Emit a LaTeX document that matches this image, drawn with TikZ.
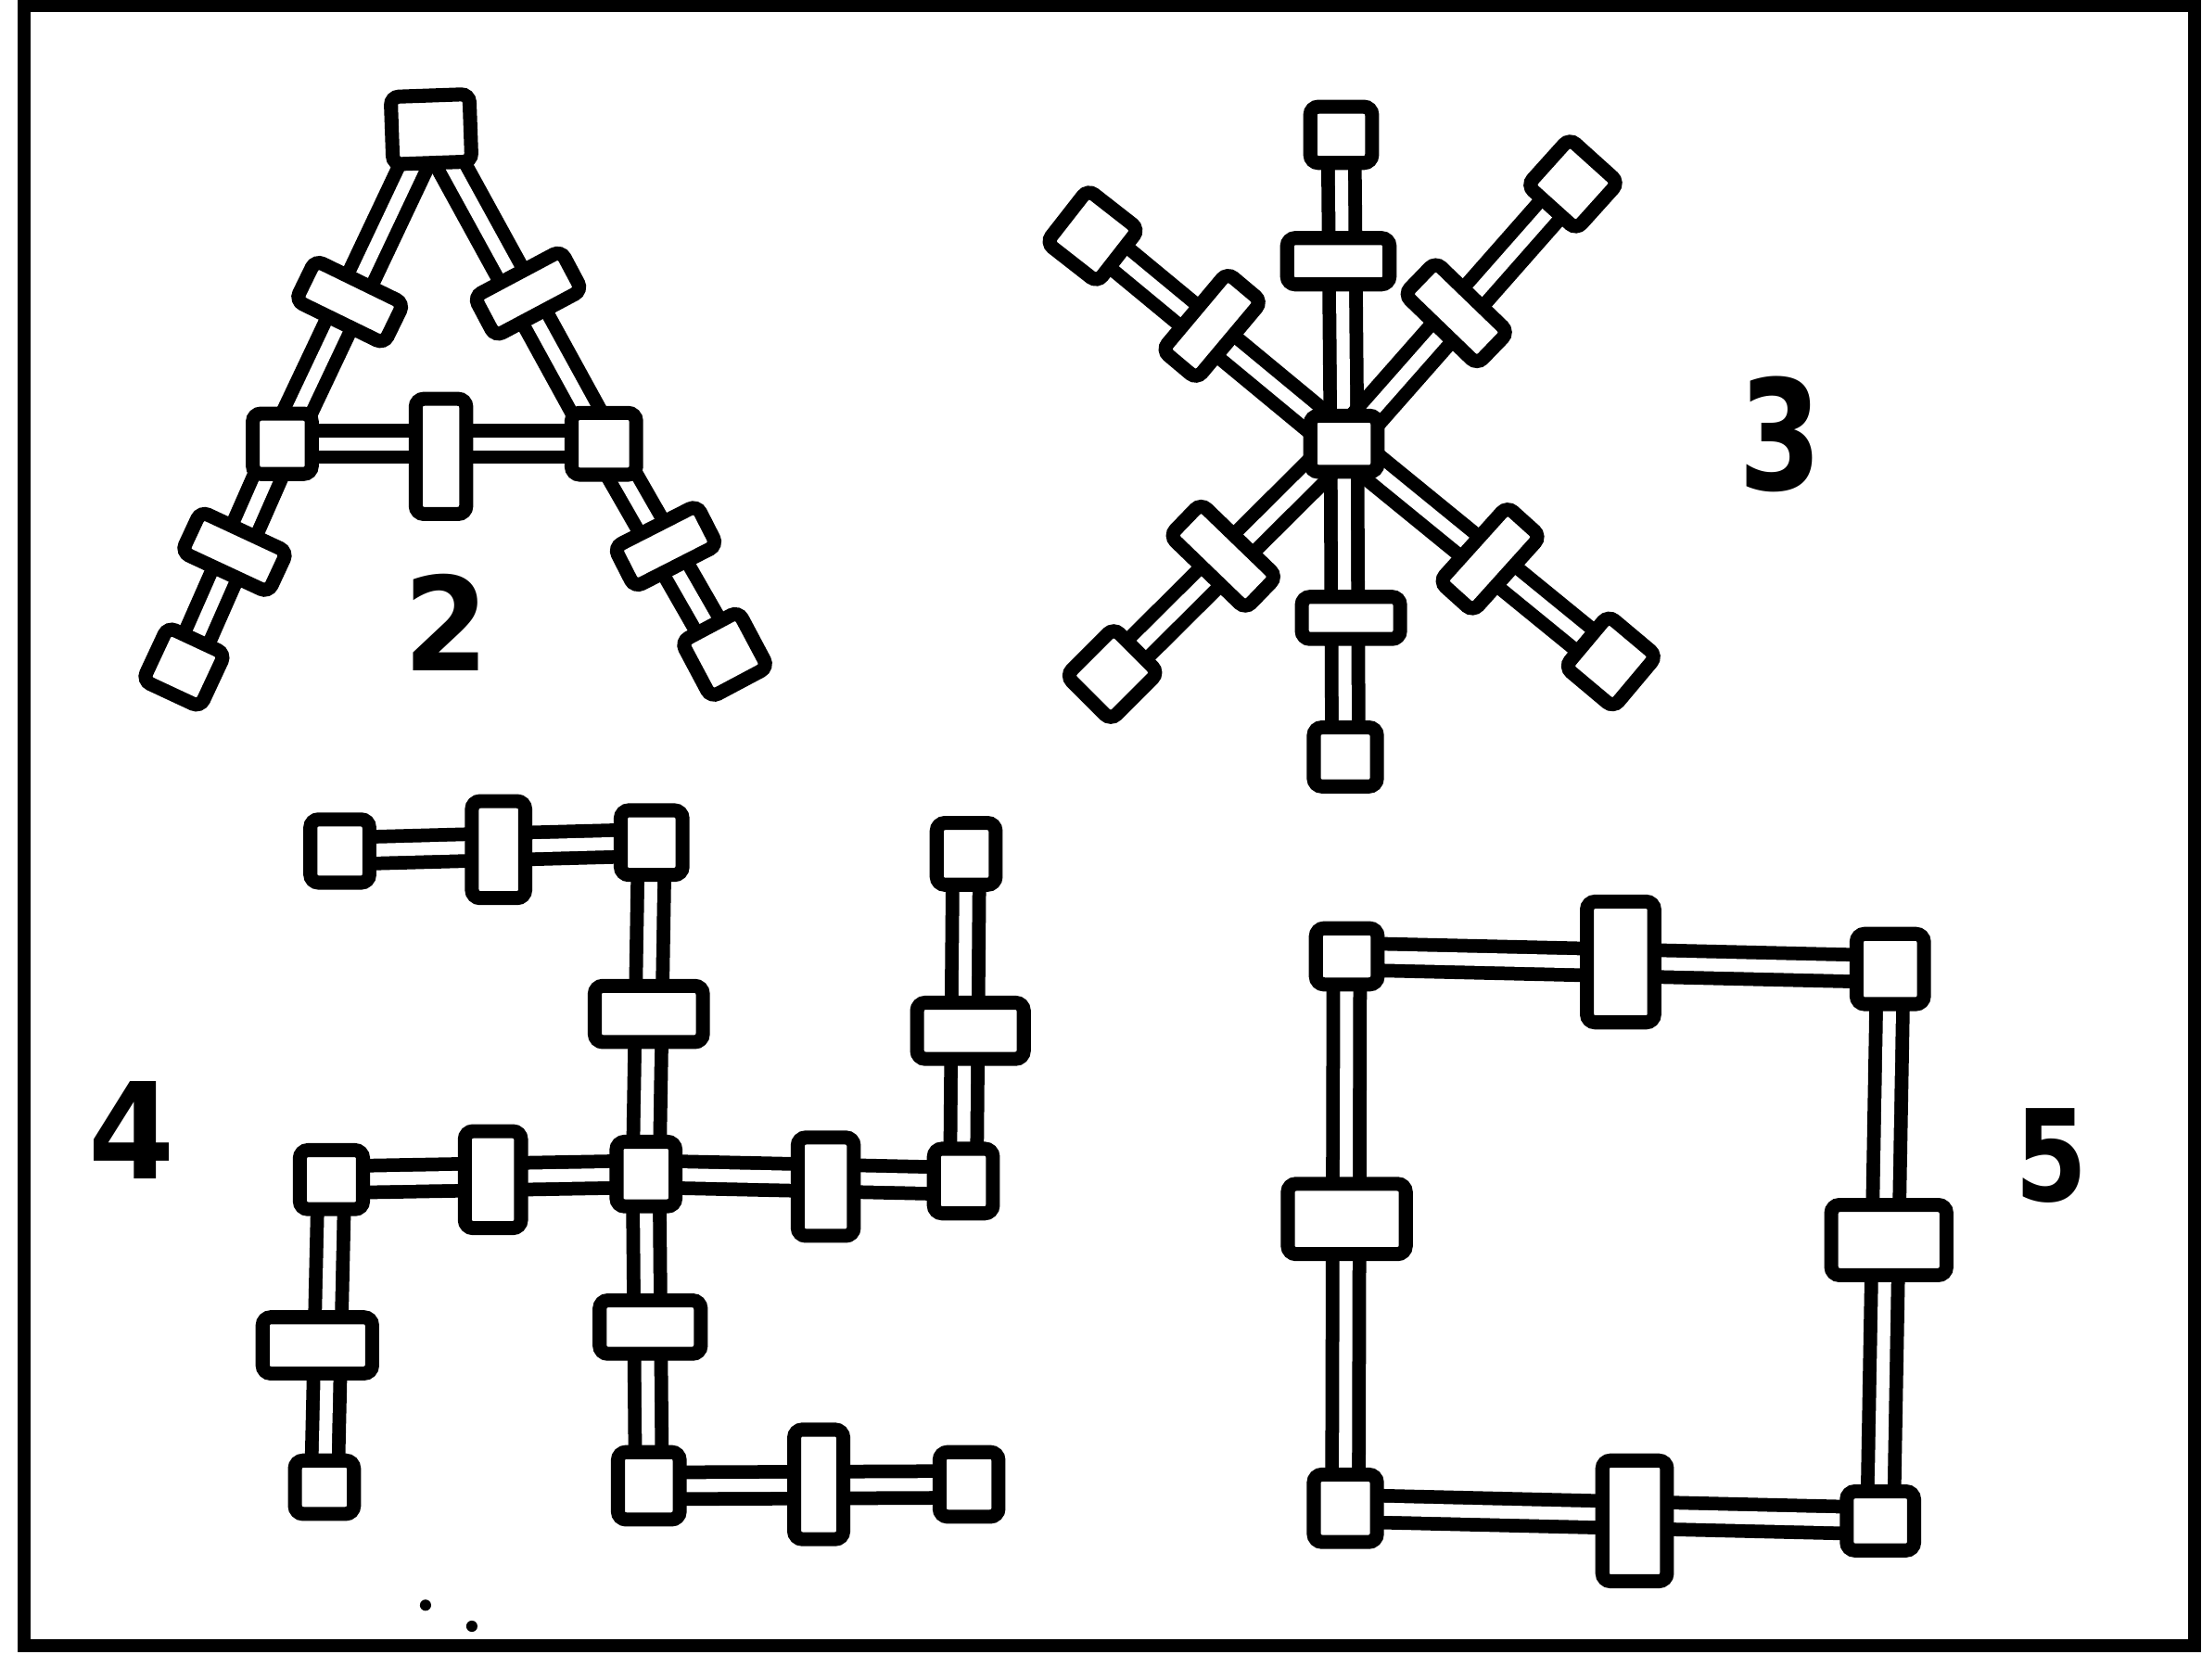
\documentclass[tikz,border=0pt]{standalone}
\usepackage{fontspec}
\newfontfamily\labfont{DejaVu Sans}
\usetikzlibrary{backgrounds}
\newcommand\digit[3]{\fontsize{#1}{#1}\selectfont\scalebox{#2}[1]{#3}}
\tikzset{
  px/.style 2 args={minimum width={(#1-10)*0.015147cm}, minimum height={(#2-10)*0.015147cm}},
  hub/.style={draw=black, line width=4.3pt, fill=white, rounded corners=2.5pt, inner sep=0pt, outer sep=0pt},
  rod/.style={draw=black, line width=4.2pt, double=white, double distance=4pt},
  lab/.style={font=\labfont\bfseries, inner sep=0pt},
  frame/.style={draw=black, line width=4pt},
}
\begin{document}
\begin{tikzpicture}[x=0.015147cm, y=-0.015147cm]
\useasboundingbox (0,0) rectangle (1568,1196);
\draw[frame] (17,4) rectangle (1563,1172);

% ---------- figure 2 ----------
\node[hub, px={66}{58}, rotate=2]   (t2)   at (307,92)  {};
\node[hub, px={80}{42}, rotate=-26] (cl2a) at (249,215) {};
\node[hub, px={52}{53}]             (ml2)  at (201,316) {};
\node[hub, px={78}{42}, rotate=-25] (cl2b) at (167,393) {};
\node[hub, px={55}{52}, rotate=-25] (bl2)  at (131,475) {};
\node[hub, px={80}{42}, rotate=28]  (cr2a) at (376,209) {};
\node[hub, px={56}{54}]             (mr2)  at (430,316) {};
\node[hub, px={76}{42}, rotate=27]  (cr2b) at (474,389) {};
\node[hub, px={56}{55}, rotate=28]  (br2)  at (516,466) {};
\node[hub, px={46}{92}]             (cm2)  at (314,325) {};
\node[lab] (l2) at (318,443) {\digit{40}{0.94}{2}};
\begin{scope}[on background layer]
  \draw[rod] (t2.center) -- (ml2.center);
  \draw[rod] (ml2.center) -- (bl2.center);
  \draw[rod] (t2.center) -- (mr2.center);
  \draw[rod] (mr2.center) -- (br2.center);
  \draw[rod] (ml2.center) -- (mr2.center);
\end{scope}

% ---------- figure 3 ----------
\node[hub, px={58}{50}]             (c3)   at (957,316) {};
\node[hub, px={54}{50}]             (n3)   at (955,96)  {};
\node[hub, px={83}{43}]             (cn3)  at (953,186) {};
\node[hub, px={80}{40}]             (cs3)  at (962,440) {};
\node[hub, px={55}{52}]             (s3)   at (958,539) {};
\node[hub, px={56}{58}, rotate=-38] (ul3)  at (778,168) {};
\node[hub, px={82}{42}, rotate=50]  (cul3) at (863,232) {};
\node[hub, px={57}{55}, rotate=-42] (ur3)  at (1120,131) {};
\node[hub, px={82}{42}, rotate=-44] (cur3) at (1037,223) {};
\node[hub, px={55}{58}, rotate=-45] (ll3)  at (792,480) {};
\node[hub, px={85}{42}, rotate=-44] (cll3) at (871,396) {};
\node[hub, px={55}{58}, rotate=-40] (lr3)  at (1147,471) {};
\node[hub, px={82}{42}, rotate=48]  (clr3) at (1061,398) {};
\node[lab] (l3) at (1268,309) {\digit{47}{0.78}{3}};
\begin{scope}[on background layer]
  \draw[rod] (c3.center) -- (n3.center);
  \draw[rod] (c3.center) -- (s3.center);
  \draw[rod] (c3.center) -- (ul3.center);
  \draw[rod] (c3.center) -- (ur3.center);
  \draw[rod] (c3.center) -- (ll3.center);
  \draw[rod] (c3.center) -- (lr3.center);
\end{scope}

% ---------- figure 4 ----------
\node[hub, px={52}{56}] (c4)   at (460,836)  {};
\node[hub, px={87}{50}] (cu4)  at (462,722)  {};
\node[hub, px={54}{56}] (t4)   at (464,600)  {};
\node[hub, px={48}{79}] (ctl4) at (355,605)  {};
\node[hub, px={52}{55}] (tl4)  at (242,606)  {};
\node[hub, px={50}{79}] (cl4)  at (351,840)  {};
\node[hub, px={55}{52}] (l4)   at (236,840)  {};
\node[hub, px={88}{50}] (cld4) at (226,958)  {};
\node[hub, px={52}{48}] (bl4)  at (231,1059) {};
\node[hub, px={50}{80}] (cr4)  at (588,845)  {};
\node[hub, px={52}{56}] (r4)   at (686,841)  {};
\node[hub, px={86}{50}] (cru4) at (691,734)  {};
\node[hub, px={52}{54}] (tr4)  at (688,608)  {};
\node[hub, px={82}{48}] (cd4)  at (463,945)  {};
\node[hub, px={54}{58}] (b4)   at (462,1058) {};
\node[hub, px={45}{88}] (cbr4) at (583,1057) {};
\node[hub, px={52}{56}] (br4)  at (690,1057) {};
\node[lab] (l4lab) at (94,805) {\digit{41}{0.93}{4}};
\begin{scope}[on background layer]
  \draw[rod] (tl4.center) -- (t4.center);
  \draw[rod] (t4.center) -- (c4.center);
  \draw[rod] (l4.center) -- (c4.center);
  \draw[rod] (c4.center) -- (r4.center);
  \draw[rod] (r4.center) -- (tr4.center);
  \draw[rod] (l4.center) -- (bl4.center);
  \draw[rod] (c4.center) -- (b4.center);
  \draw[rod] (b4.center) -- (br4.center);
\end{scope}

% ---------- figure 5 ----------
\node[hub, px={54}{50}] (tl5) at (959,681)   {};
\node[hub, px={58}{96}] (ct5) at (1154,685)  {};
\node[hub, px={58}{60}] (tr5) at (1346,690)  {};
\node[hub, px={94}{60}] (cl5) at (959,868)   {};
\node[hub, px={92}{60}] (cr5) at (1345,883)  {};
\node[hub, px={55}{58}] (bl5) at (958,1074)  {};
\node[hub, px={56}{96}] (cb5) at (1164,1083) {};
\node[hub, px={58}{52}] (br5) at (1339,1083) {};
\node[lab] (l5) at (1461,823) {\digit{39}{0.82}{5}};
\begin{scope}[on background layer]
  \draw[rod] (tl5.center) -- (tr5.center);
  \draw[rod] (tl5.center) -- (bl5.center);
  \draw[rod] (tr5.center) -- (br5.center);
  \draw[rod] (bl5.center) -- (br5.center);
\end{scope}

% ---------- specks ----------
\fill (303,1143) circle[radius=4];
\fill (336,1158) circle[radius=4];
\end{tikzpicture}
\end{document}
